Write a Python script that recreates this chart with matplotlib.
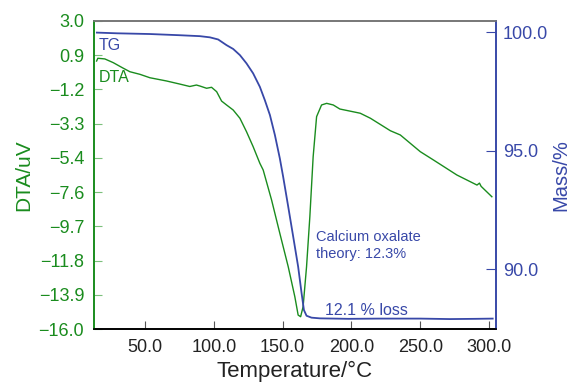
import numpy as np
import matplotlib
matplotlib.use("Agg")
import matplotlib.pyplot as plt

plt.rcParams['font.family'] = ['Liberation Sans', 'DejaVu Sans']

green = '#1a8c1e'
blue = '#3848a8'

# TG curve (temperature in C, mass in %)
tg_t = [15.1, 30.0, 53.6, 75.0, 89.9, 97.2, 103.2, 109.3, 114.1, 119.0, 123.8, 128.6,
        133.5, 137.1, 140.8, 144.4, 148.0, 150.4, 154.1, 157.7, 161.3, 163.8, 165.5,
        167.4, 171.0, 177.1, 198.0, 220.0, 250.0, 271.5, 290.0, 302.6]
tg_mass = [99.99, 99.96, 99.93, 99.88, 99.84, 99.79, 99.70, 99.46, 99.30, 99.04, 98.69,
           98.27, 97.70, 97.14, 96.51, 95.67, 94.68, 93.91, 92.64, 91.38, 90.11, 88.99,
           88.28, 88.04, 87.96, 87.93, 87.91, 87.92, 87.92, 87.90, 87.91, 87.92]

# DTA curve (temperature in C, signal in uV)
dta_t = [14.9, 15.8, 20.9, 27.0, 34.0, 39.1, 46.4, 53.6, 65.7, 75.3, 82.6, 87.4, 89.9,
         94.8, 98.4, 102.1, 105.7, 109.3, 114.1, 119.0, 123.8, 128.6, 133.5, 135.9,
         142.0, 148.0, 154.1, 158.9, 161.3, 163.1, 164.9, 167.4, 169.8, 172.2, 174.7,
         178.3, 182.0, 186.8, 191.6, 201.3, 206.4, 213.8, 228.3, 235.5, 250.0, 259.7,
         276.6, 283.9, 291.2, 293.0, 294.2, 302.0]
dta_v = [0.53, 0.70, 0.66, 0.43, 0.10, -0.13, -0.29, -0.50, -0.70, -0.89, -1.04, -0.95,
         -1.01, -1.15, -1.09, -1.36, -1.94, -2.18, -2.49, -3.00, -3.83, -4.75, -5.78,
         -6.19, -8.04, -10.10, -12.16, -14.01, -15.14, -15.24, -14.62, -12.16, -9.07,
         -5.37, -2.90, -2.18, -2.08, -2.18, -2.43, -2.60, -2.69, -3.00, -3.77, -4.03,
         -5.06, -5.58, -6.50, -6.81, -7.12, -7.00, -7.20, -7.84]

dta_ticks = np.linspace(3.0, -16.0, 10)
mass_ticks = [90.0, 95.0, 100.0]
x_ticks = [50.0, 100.0, 150.0, 200.0, 250.0, 300.0]


def fmt(v):
    return ('%.1f' % v).replace('-', '\u2212')


fig = plt.figure(figsize=(5.73, 3.88), dpi=100)
ax = fig.add_axes([0.164, 0.152, 0.7016, 0.7939])
ax2 = ax.twinx()

ax.plot(dta_t, dta_v, color=green, lw=1.0)
ax2.plot(tg_t, tg_mass, color=blue, lw=1.3)

ax.set_xlim(13, 305)
ax.set_ylim(-16.0, 3.0)
ax2.set_ylim(87.48, 100.48)

ax.set_xticks(x_ticks)
ax.set_xticklabels([fmt(v) for v in x_ticks])
ax.set_yticks(dta_ticks)
ax.set_yticklabels([fmt(v) for v in dta_ticks])
ax2.set_yticks(mass_ticks)
ax2.set_yticklabels([fmt(v) for v in mass_ticks])

ax.tick_params(axis='x', direction='in', length=6, color='#555555', labelsize=13,
               labelcolor='#222222', pad=7)
ax.tick_params(axis='y', direction='in', length=6, color='#7cc07c', labelsize=13,
               labelcolor=green, pad=7)
ax2.tick_params(axis='y', direction='in', length=7, color=blue, labelsize=13,
                labelcolor=blue, pad=5)

for a in (ax, ax2):
    a.spines['top'].set_color('#777777')
    a.spines['left'].set_color(green)
    a.spines['right'].set_color(blue)
    a.spines['bottom'].set_color('black')
    for s in a.spines.values():
        s.set_linewidth(1.2)

ax.set_xlabel('Temperature/\u00b0C', fontsize=16, color='#222222', labelpad=4)
ax.set_ylabel('DTA/uV', fontsize=15, color=green, labelpad=4)
ax2.set_ylabel('Mass/%', fontsize=14.5, color=blue, labelpad=2)

ax.text(16.6, 1.49, 'TG', color=blue, fontsize=11.5, va='center', ha='left')
ax.text(16.6, -0.50, 'DTA', color=green, fontsize=11.5, va='center', ha='left')
ax.text(174.2, -9.89, 'Calcium oxalate\ntheory: 12.3%', color=blue, fontsize=10.5,
        va='top', ha='left', linespacing=1.3)
ax2.text(180.7, 88.25, '12.1 % loss', color=blue, fontsize=11.5, va='center', ha='left')

fig.savefig('out.png', dpi=100)
